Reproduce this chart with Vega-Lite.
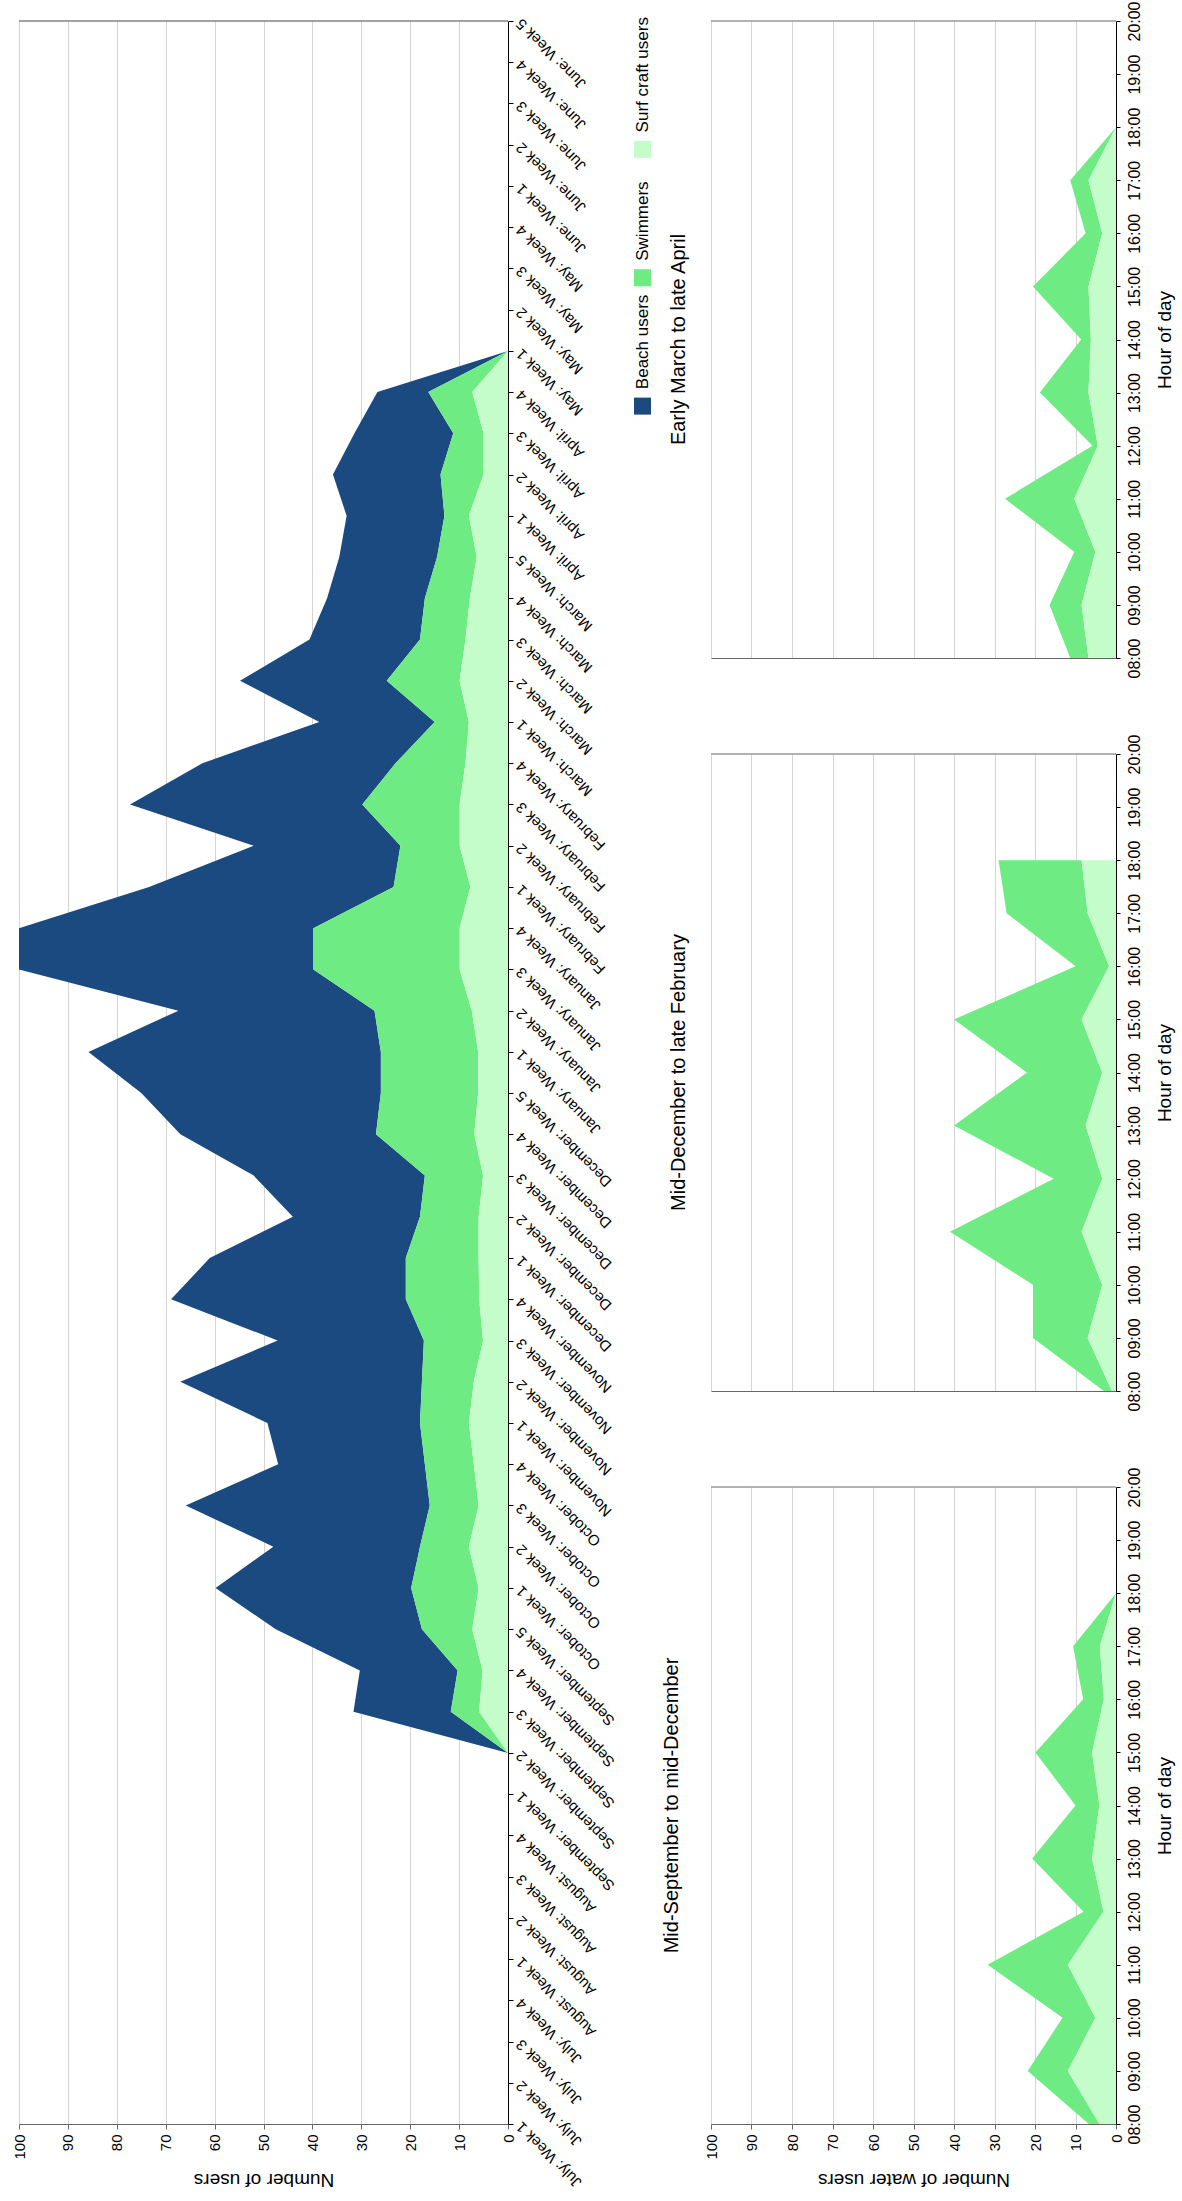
{
  "$schema": "https://vega.github.io/schema/vega-lite/v6.json",
  "background": "white",
  "padding": {"left": 12, "top": 0, "right": 5, "bottom": 12},
  "config": {
    "font": "Liberation Sans",
    "view": {"stroke": null},
    "axis": {"labelColor": "#000000", "titleColor": "#000000", "titleFontWeight": "normal"}
  },
  "datasets": {
    "weekly": [
      {"week": "September: Week 2", "Beach users": 0, "Swimmers": 0, "Surf craft users": 0},
      {"week": "September: Week 3", "Beach users": 19.9, "Swimmers": 5.8, "Surf craft users": 5.9},
      {"week": "September: Week 4", "Beach users": 20.0, "Swimmers": 5.1, "Surf craft users": 5.2},
      {"week": "September: Week 5", "Beach users": 29.9, "Swimmers": 10.3, "Surf craft users": 7.3},
      {"week": "October: Week 1", "Beach users": 40.0, "Swimmers": 13.8, "Surf craft users": 6.0},
      {"week": "October: Week 2", "Beach users": 30.0, "Swimmers": 10.0, "Surf craft users": 8.0},
      {"week": "October: Week 3", "Beach users": 49.9, "Swimmers": 10.0, "Surf craft users": 6.0},
      {"week": "October: Week 4", "Beach users": 30.0, "Swimmers": 10.0, "Surf craft users": 7.0},
      {"week": "November: Week 1", "Beach users": 31.2, "Swimmers": 10.0, "Surf craft users": 8.0},
      {"week": "November: Week 2", "Beach users": 49.4, "Swimmers": 10.6, "Surf craft users": 7.0},
      {"week": "November: Week 3", "Beach users": 29.9, "Swimmers": 12.1, "Surf craft users": 5.1},
      {"week": "November: Week 4", "Beach users": 48.0, "Swimmers": 15.0, "Surf craft users": 5.9},
      {"week": "December: Week 1", "Beach users": 40.1, "Swimmers": 14.9, "Surf craft users": 6.0},
      {"week": "December: Week 2", "Beach users": 26.0, "Swimmers": 12.0, "Surf craft users": 6.0},
      {"week": "December: Week 3", "Beach users": 35.0, "Swimmers": 11.9, "Surf craft users": 5.1},
      {"week": "December: Week 4", "Beach users": 40.0, "Swimmers": 20.1, "Surf craft users": 6.9},
      {"week": "December: Week 5", "Beach users": 49.0, "Swimmers": 19.9, "Surf craft users": 6.1},
      {"week": "January: Week 1", "Beach users": 59.8, "Swimmers": 19.9, "Surf craft users": 6.1},
      {"week": "January: Week 2", "Beach users": 40.1, "Swimmers": 19.9, "Surf craft users": 7.4},
      {"week": "January: Week 3", "Beach users": 60.2, "Swimmers": 29.9, "Surf craft users": 9.9},
      {"week": "January: Week 4", "Beach users": 60.2, "Swimmers": 29.9, "Surf craft users": 9.9},
      {"week": "February: Week 1", "Beach users": 50.0, "Swimmers": 15.7, "Surf craft users": 7.7},
      {"week": "February: Week 2", "Beach users": 30.0, "Swimmers": 12.1, "Surf craft users": 9.9},
      {"week": "February: Week 3", "Beach users": 47.5, "Swimmers": 19.9, "Surf craft users": 9.9},
      {"week": "February: Week 4", "Beach users": 39.5, "Swimmers": 14.3, "Surf craft users": 8.7},
      {"week": "March: Week 1", "Beach users": 23.6, "Swimmers": 7.0, "Surf craft users": 8.0},
      {"week": "March: Week 2", "Beach users": 30.0, "Swimmers": 14.9, "Surf craft users": 9.9},
      {"week": "March: Week 3", "Beach users": 22.6, "Swimmers": 9.3, "Surf craft users": 8.7},
      {"week": "March: Week 4", "Beach users": 20.0, "Swimmers": 9.2, "Surf craft users": 7.8},
      {"week": "March: Week 5", "Beach users": 20.0, "Swimmers": 8.1, "Surf craft users": 6.4},
      {"week": "April: Week 1", "Beach users": 20.0, "Swimmers": 5.0, "Surf craft users": 8.0},
      {"week": "April: Week 2", "Beach users": 22.0, "Swimmers": 8.8, "Surf craft users": 5.0},
      {"week": "April: Week 3", "Beach users": 20.2, "Swimmers": 6.2, "Surf craft users": 5.0},
      {"week": "April: Week 4", "Beach users": 10.4, "Swimmers": 9.0, "Surf craft users": 7.3},
      {"week": "May: Week 1", "Beach users": 0, "Swimmers": 0, "Surf craft users": 0}
    ],
    "hourly": [
      {"panel": "Mid-September to mid-December", "hour": "08:00", "Swimmers": 2.6, "Surf craft users": 4.1},
      {"panel": "Mid-September to mid-December", "hour": "09:00", "Swimmers": 9.9, "Surf craft users": 11.9},
      {"panel": "Mid-September to mid-December", "hour": "10:00", "Swimmers": 8.1, "Surf craft users": 5.1},
      {"panel": "Mid-September to mid-December", "hour": "11:00", "Swimmers": 19.8, "Surf craft users": 11.9},
      {"panel": "Mid-September to mid-December", "hour": "12:00", "Swimmers": 4.9, "Surf craft users": 3.1},
      {"panel": "Mid-September to mid-December", "hour": "13:00", "Swimmers": 14.8, "Surf craft users": 5.9},
      {"panel": "Mid-September to mid-December", "hour": "14:00", "Swimmers": 5.9, "Surf craft users": 4.1},
      {"panel": "Mid-September to mid-December", "hour": "15:00", "Swimmers": 14.0, "Surf craft users": 5.9},
      {"panel": "Mid-September to mid-December", "hour": "16:00", "Swimmers": 5.1, "Surf craft users": 3.0},
      {"panel": "Mid-September to mid-December", "hour": "17:00", "Swimmers": 6.6, "Surf craft users": 4.0},
      {"panel": "Mid-September to mid-December", "hour": "18:00", "Swimmers": 0, "Surf craft users": 0},
      {"panel": "Mid-December to late February", "hour": "08:00", "Swimmers": 2.0, "Surf craft users": 1.0},
      {"panel": "Mid-December to late February", "hour": "09:00", "Swimmers": 13.5, "Surf craft users": 7.0},
      {"panel": "Mid-December to late February", "hour": "10:00", "Swimmers": 17.1, "Surf craft users": 3.4},
      {"panel": "Mid-December to late February", "hour": "11:00", "Swimmers": 32.5, "Surf craft users": 8.5},
      {"panel": "Mid-December to late February", "hour": "12:00", "Swimmers": 12.0, "Surf craft users": 3.4},
      {"panel": "Mid-December to late February", "hour": "13:00", "Swimmers": 32.5, "Surf craft users": 7.5},
      {"panel": "Mid-December to late February", "hour": "14:00", "Swimmers": 18.6, "Surf craft users": 3.4},
      {"panel": "Mid-December to late February", "hour": "15:00", "Swimmers": 31.5, "Surf craft users": 8.5},
      {"panel": "Mid-December to late February", "hour": "16:00", "Swimmers": 8.3, "Surf craft users": 1.7},
      {"panel": "Mid-December to late February", "hour": "17:00", "Swimmers": 20.0, "Surf craft users": 7.0},
      {"panel": "Mid-December to late February", "hour": "18:00", "Swimmers": 20.5, "Surf craft users": 8.5},
      {"panel": "Early March to late April", "hour": "08:00", "Swimmers": 4.5, "Surf craft users": 6.8},
      {"panel": "Early March to late April", "hour": "09:00", "Swimmers": 7.9, "Surf craft users": 8.5},
      {"panel": "Early March to late April", "hour": "10:00", "Swimmers": 5.2, "Surf craft users": 5.1},
      {"panel": "Early March to late April", "hour": "11:00", "Swimmers": 17.1, "Surf craft users": 10.3},
      {"panel": "Early March to late April", "hour": "12:00", "Swimmers": 1.3, "Surf craft users": 4.5},
      {"panel": "Early March to late April", "hour": "13:00", "Swimmers": 12.0, "Surf craft users": 6.8},
      {"panel": "Early March to late April", "hour": "14:00", "Swimmers": 2.4, "Surf craft users": 6.2},
      {"panel": "Early March to late April", "hour": "15:00", "Swimmers": 13.7, "Surf craft users": 6.8},
      {"panel": "Early March to late April", "hour": "16:00", "Swimmers": 4.1, "Surf craft users": 3.4},
      {"panel": "Early March to late April", "hour": "17:00", "Swimmers": 4.5, "Surf craft users": 6.8},
      {"panel": "Early March to late April", "hour": "18:00", "Swimmers": 0, "Surf craft users": 0}
    ],
    "legend": [
      {"series": "Beach users"},
      {"series": "Swimmers"},
      {"series": "Surf craft users"}
    ]
  },
  "bounds": "flush",
  "spacing": 123.5,
  "hconcat": [
    {
      "width": 489,
      "height": 2103,
      "layer": [
        {
          "data": {"name": "weekly"},
          "transform": [
            {"fold": ["Beach users", "Swimmers", "Surf craft users"], "as": ["series", "n"]},
            {"calculate": "indexof(['Surf craft users','Swimmers','Beach users'], datum.series)", "as": "ord"}
          ],
          "mark": {"type": "area", "orient": "horizontal", "opacity": 1},
          "encoding": {
            "y": {
              "field": "week", "type": "ordinal",
              "scale": {"type": "point", "padding": 0, "domain": ["June: Week 5","June: Week 4","June: Week 3","June: Week 2","June: Week 1","May: Week 4","May: Week 3","May: Week 2","May: Week 1","April: Week 4","April: Week 3","April: Week 2","April: Week 1","March: Week 5","March: Week 4","March: Week 3","March: Week 2","March: Week 1","February: Week 4","February: Week 3","February: Week 2","February: Week 1","January: Week 4","January: Week 3","January: Week 2","January: Week 1","December: Week 5","December: Week 4","December: Week 3","December: Week 2","December: Week 1","November: Week 4","November: Week 3","November: Week 2","November: Week 1","October: Week 4","October: Week 3","October: Week 2","October: Week 1","September: Week 5","September: Week 4","September: Week 3","September: Week 2","September: Week 1","August: Week 4","August: Week 3","August: Week 2","August: Week 1","July: Week 4","July: Week 3","July: Week 2","July: Week 1"]},
              "axis": {"orient": "right", "title": null, "grid": false, "labelAngle": 225, "labelAlign": "right", "labelBaseline": "middle", "labelFontSize": 15, "labelPadding": 5, "labelOverlap": false, "labelLimit": 300, "tickSize": 5, "tickColor": "#000000", "domainColor": "#000000"}
            },
            "x": {
              "field": "n", "type": "quantitative", "stack": "zero",
              "scale": {"domain": [0, 100], "reverse": true, "nice": false},
              "axis": {"orient": "bottom", "values": [0,10,20,30,40,50,60,70,80,90,100], "grid": true, "gridColor": "#d4d4d4", "domainColor": "#666666", "tickColor": "#666666", "tickSize": 5, "labelAngle": 270, "labelAlign": "right", "labelBaseline": "middle", "labelFontSize": 15, "labelPadding": 5, "labelFlush": false, "title": "Number of users", "titleAngle": 180, "titleBaseline": "bottom", "titleFontSize": 19, "titlePadding": 10}
            },
            "color": {"field": "series", "type": "nominal", "scale": {"domain": ["Beach users", "Swimmers", "Surf craft users"], "range": ["#1a4a7f", "#6feb84", "#c4fdca"]}, "legend": null},
            "order": {"field": "ord", "type": "quantitative"}
          }
        },
        {
          "data": {"values": [{}]},
          "mark": {"type": "rule", "color": "#444444", "strokeWidth": 1},
          "encoding": {
            "y": {"datum": "June: Week 5", "type": "ordinal"},
            "x": {"datum": 0, "type": "quantitative"},
            "x2": {"datum": 100}
          }
        }
      ]
    },
    {
      "bounds": "flush",
      "spacing": 57.5,
      "hconcat": [
        {
          "width": 22,
          "height": 513.5,
          "data": {"name": "legend"},
          "encoding": {
            "y": {"field": "series", "type": "nominal", "scale": {"type": "point", "domain": ["Surf craft users", "Swimmers", "Beach users"], "padding": 1.083}, "axis": null}
          },
          "layer": [
            {
              "mark": {"type": "square", "size": 289, "filled": true, "opacity": 1},
              "encoding": {"color": {"field": "series", "type": "nominal", "scale": {"domain": ["Beach users", "Swimmers", "Surf craft users"], "range": ["#1a4a7f", "#6feb84", "#c4fdca"]}, "legend": null}}
            },
            {
              "mark": {"type": "text", "angle": 270, "align": "left", "baseline": "middle", "dx": 17, "fontSize": 17, "color": "#000000"},
              "encoding": {"text": {"field": "series"}}
            }
          ]
        },
        {
          "bounds": "flush",
          "spacing": 96,
          "vconcat": [
            {
              "width": 405,
              "height": 637,
              "title": {"text": "Early March to late April", "orient": "left", "anchor": "middle", "fontSize": 20, "fontWeight": "normal", "offset": 22, "color": "#000000"},
              "layer": [
                {
                  "data": {"name": "hourly"},
                  "transform": [
                    {"filter": "datum.panel === 'Early March to late April'"},
                    {"fold": ["Swimmers", "Surf craft users"], "as": ["series", "n"]},
                    {"calculate": "indexof(['Surf craft users','Swimmers','Beach users'], datum.series)", "as": "ord"}
                  ],
                  "mark": {"type": "area", "orient": "horizontal", "opacity": 1},
                  "encoding": {
                    "y": {"field": "hour", "type": "ordinal", "scale": {"type": "point", "padding": 0, "domain": ["20:00","19:00","18:00","17:00","16:00","15:00","14:00","13:00","12:00","11:00","10:00","09:00","08:00"]},
                      "axis": {"orient": "right", "grid": false, "labelAngle": 270, "labelAlign": "center", "labelBaseline": "top", "labelFontSize": 16, "labelPadding": 6, "labelOverlap": false, "tickSize": 4, "tickColor": "#000000", "domainColor": "#000000", "title": "Hour of day", "titleAngle": 270, "titleBaseline": "top", "titleFontSize": 19, "titlePadding": 13}},
                    "x": {"field": "n", "type": "quantitative", "stack": "zero", "scale": {"domain": [0, 100], "reverse": true, "nice": false},
                      "axis": {"orient": "bottom", "values": [0,10,20,30,40,50,60,70,80,90,100], "grid": true, "gridColor": "#d4d4d4", "domainColor": "#666666", "ticks": false, "labels": false, "title": null}},
                    "color": {"field": "series", "type": "nominal", "scale": {"domain": ["Beach users", "Swimmers", "Surf craft users"], "range": ["#1a4a7f", "#6feb84", "#c4fdca"]}, "legend": null},
                    "order": {"field": "ord", "type": "quantitative"}
                  }
                },
                {
                  "data": {"values": [{}]},
                  "mark": {"type": "rule", "color": "#666666", "strokeWidth": 1},
                  "encoding": {"y": {"datum": "20:00", "type": "ordinal"}, "x": {"datum": 0, "type": "quantitative"}, "x2": {"datum": 100}}
                }
              ]
            },
            {
              "width": 405,
              "height": 637,
              "title": {"text": "Mid-December to late February", "orient": "left", "anchor": "middle", "fontSize": 20, "fontWeight": "normal", "offset": 22, "color": "#000000"},
              "layer": [
                {
                  "data": {"name": "hourly"},
                  "transform": [
                    {"filter": "datum.panel === 'Mid-December to late February'"},
                    {"fold": ["Swimmers", "Surf craft users"], "as": ["series", "n"]},
                    {"calculate": "indexof(['Surf craft users','Swimmers','Beach users'], datum.series)", "as": "ord"}
                  ],
                  "mark": {"type": "area", "orient": "horizontal", "opacity": 1},
                  "encoding": {
                    "y": {"field": "hour", "type": "ordinal", "scale": {"type": "point", "padding": 0, "domain": ["20:00","19:00","18:00","17:00","16:00","15:00","14:00","13:00","12:00","11:00","10:00","09:00","08:00"]},
                      "axis": {"orient": "right", "grid": false, "labelAngle": 270, "labelAlign": "center", "labelBaseline": "top", "labelFontSize": 16, "labelPadding": 6, "labelOverlap": false, "tickSize": 4, "tickColor": "#000000", "domainColor": "#000000", "title": "Hour of day", "titleAngle": 270, "titleBaseline": "top", "titleFontSize": 19, "titlePadding": 13}},
                    "x": {"field": "n", "type": "quantitative", "stack": "zero", "scale": {"domain": [0, 100], "reverse": true, "nice": false},
                      "axis": {"orient": "bottom", "values": [0,10,20,30,40,50,60,70,80,90,100], "grid": true, "gridColor": "#d4d4d4", "domainColor": "#666666", "ticks": false, "labels": false, "title": null}},
                    "color": {"field": "series", "type": "nominal", "scale": {"domain": ["Beach users", "Swimmers", "Surf craft users"], "range": ["#1a4a7f", "#6feb84", "#c4fdca"]}, "legend": null},
                    "order": {"field": "ord", "type": "quantitative"}
                  }
                },
                {
                  "data": {"values": [{}]},
                  "mark": {"type": "rule", "color": "#666666", "strokeWidth": 1},
                  "encoding": {"y": {"datum": "20:00", "type": "ordinal"}, "x": {"datum": 0, "type": "quantitative"}, "x2": {"datum": 100}}
                }
              ]
            },
            {
              "width": 405,
              "height": 637,
              "title": {"text": "Mid-September to mid-December", "orient": "left", "anchor": "middle", "fontSize": 20, "fontWeight": "normal", "offset": 22, "color": "#000000"},
              "layer": [
                {
                  "data": {"name": "hourly"},
                  "transform": [
                    {"filter": "datum.panel === 'Mid-September to mid-December'"},
                    {"fold": ["Swimmers", "Surf craft users"], "as": ["series", "n"]},
                    {"calculate": "indexof(['Surf craft users','Swimmers','Beach users'], datum.series)", "as": "ord"}
                  ],
                  "mark": {"type": "area", "orient": "horizontal", "opacity": 1},
                  "encoding": {
                    "y": {"field": "hour", "type": "ordinal", "scale": {"type": "point", "padding": 0, "domain": ["20:00","19:00","18:00","17:00","16:00","15:00","14:00","13:00","12:00","11:00","10:00","09:00","08:00"]},
                      "axis": {"orient": "right", "grid": false, "labelAngle": 270, "labelAlign": "center", "labelBaseline": "top", "labelFontSize": 16, "labelPadding": 6, "labelOverlap": false, "tickSize": 4, "tickColor": "#000000", "domainColor": "#000000", "title": "Hour of day", "titleAngle": 270, "titleBaseline": "top", "titleFontSize": 19, "titlePadding": 13}},
                    "x": {"field": "n", "type": "quantitative", "stack": "zero", "scale": {"domain": [0, 100], "reverse": true, "nice": false},
                      "axis": {"orient": "bottom", "values": [0,10,20,30,40,50,60,70,80,90,100], "grid": true, "gridColor": "#d4d4d4", "domainColor": "#666666", "tickColor": "#666666", "tickSize": 5, "labelAngle": 270, "labelAlign": "right", "labelBaseline": "middle", "labelFontSize": 15, "labelPadding": 5, "labelFlush": false, "title": "Number of water users", "titleAngle": 180, "titleBaseline": "bottom", "titleFontSize": 19, "titlePadding": 10}},
                    "color": {"field": "series", "type": "nominal", "scale": {"domain": ["Beach users", "Swimmers", "Surf craft users"], "range": ["#1a4a7f", "#6feb84", "#c4fdca"]}, "legend": null},
                    "order": {"field": "ord", "type": "quantitative"}
                  }
                },
                {
                  "data": {"values": [{}]},
                  "mark": {"type": "rule", "color": "#666666", "strokeWidth": 1},
                  "encoding": {"y": {"datum": "20:00", "type": "ordinal"}, "x": {"datum": 0, "type": "quantitative"}, "x2": {"datum": 100}}
                }
              ]
            }
          ]
        }
      ]
    }
  ]
}
